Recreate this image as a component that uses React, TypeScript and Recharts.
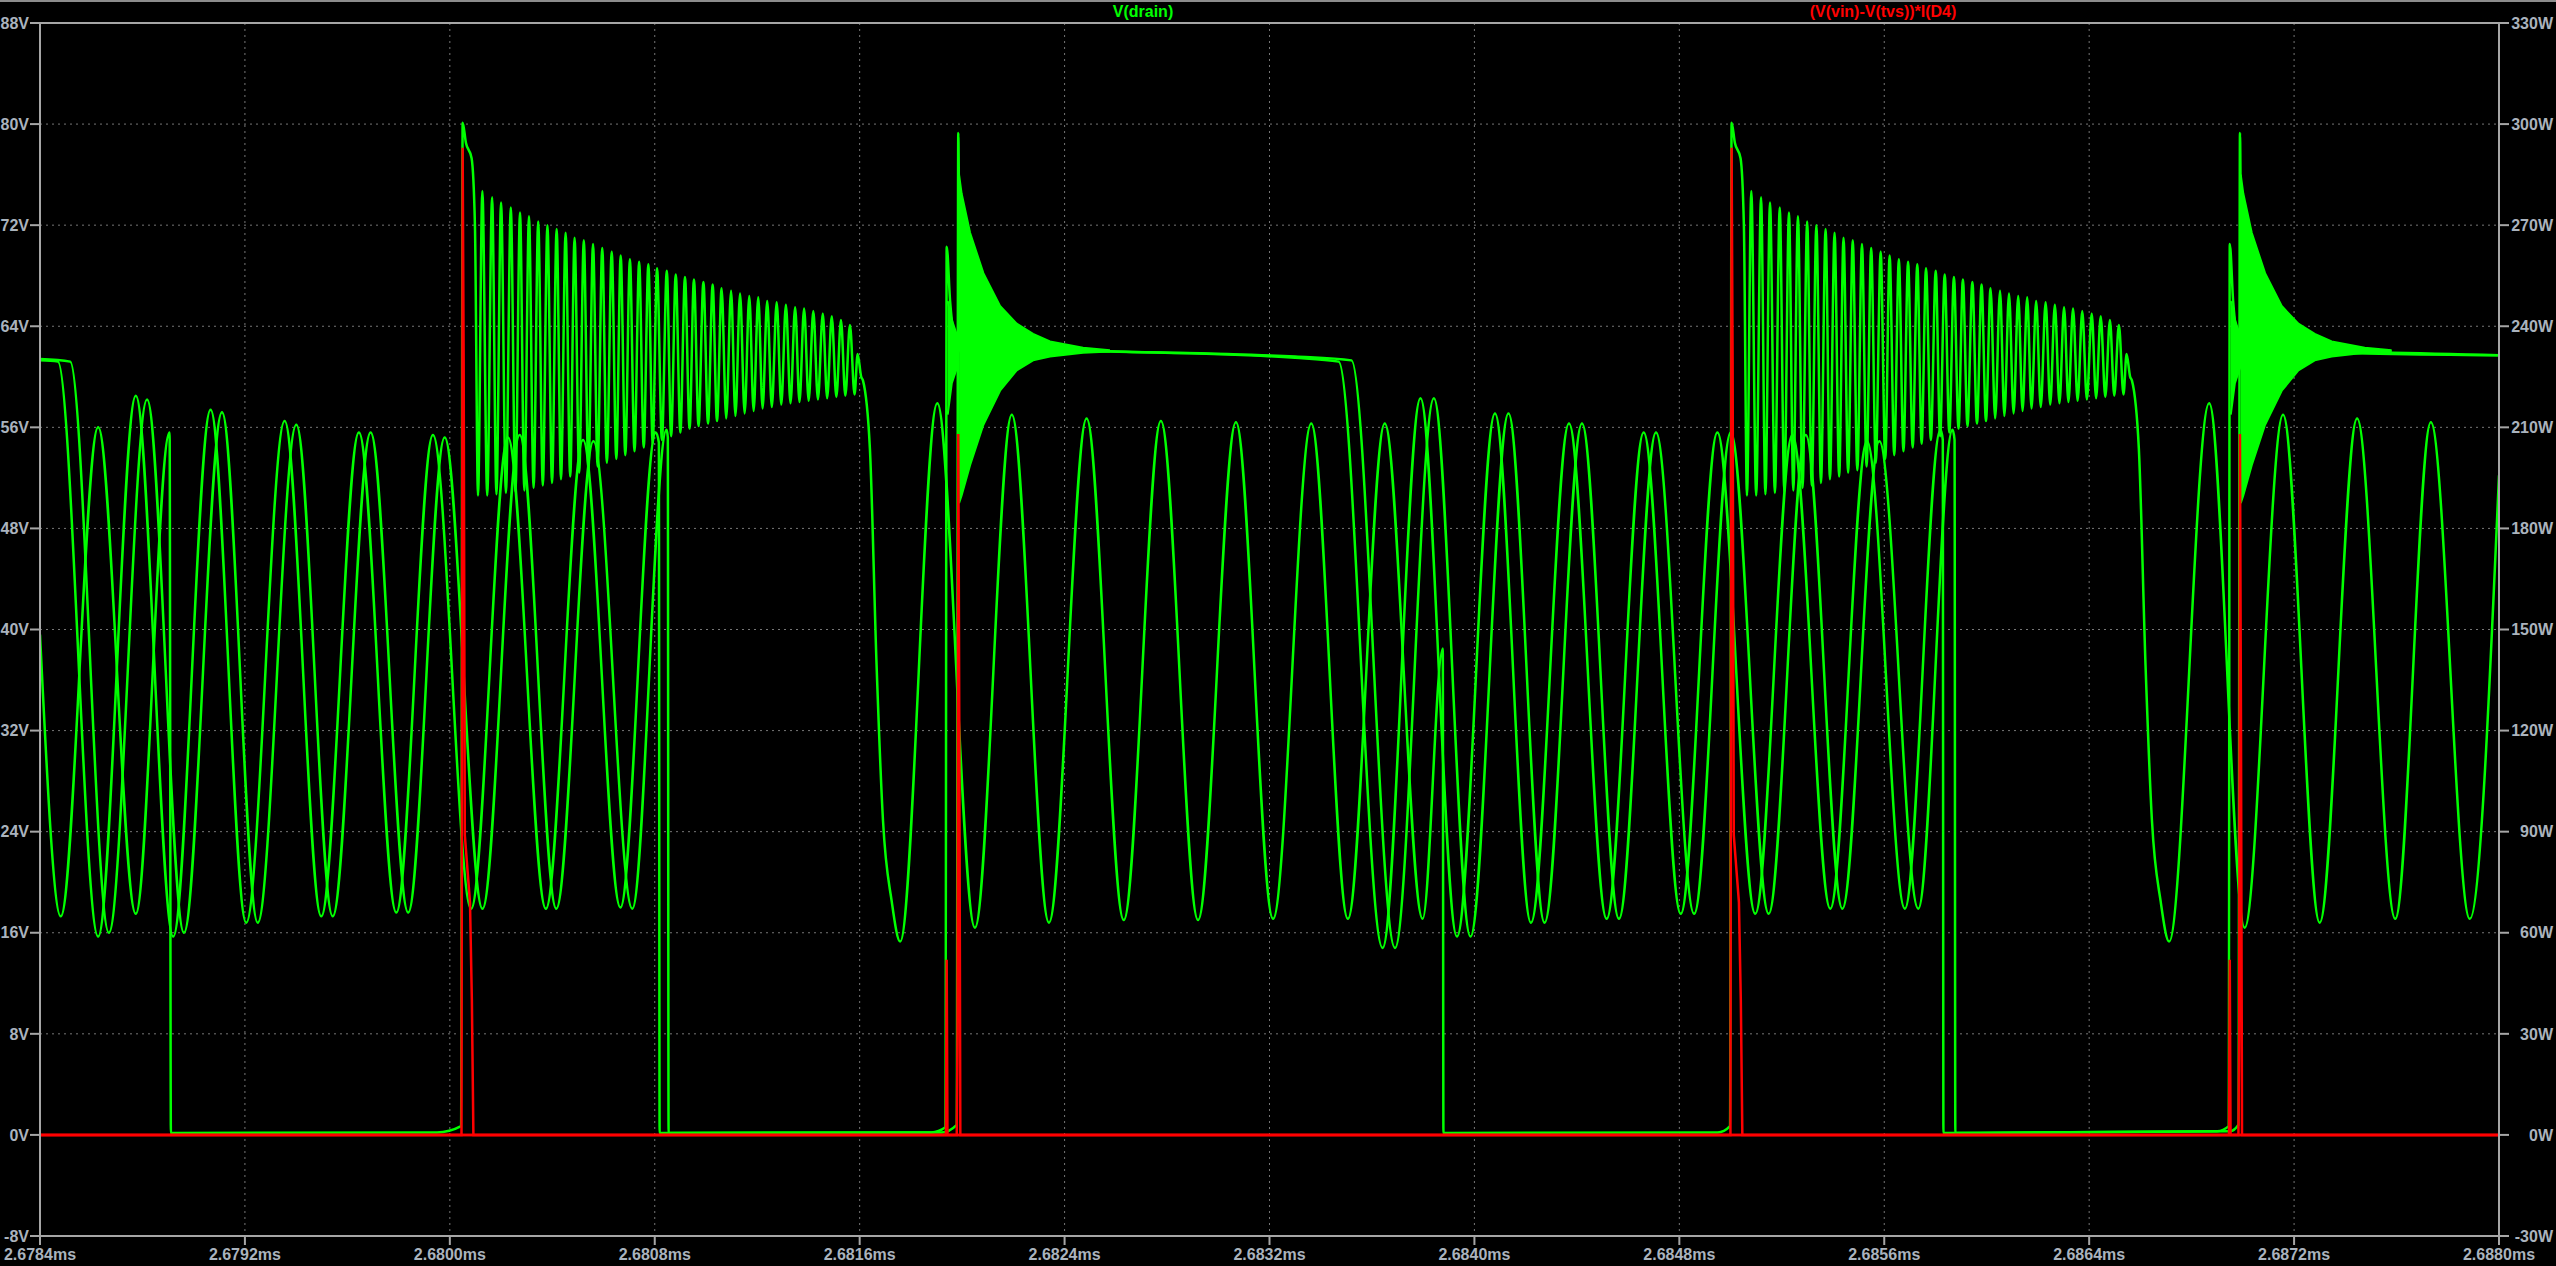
import React from "react";
import {
    ComposedChart,
    Line,
    Area,
    XAxis,
    YAxis,
    CartesianGrid,
    ReferenceLine,
} from "recharts";

// ---------------------------------------------------------------------------
// Axis ticks (time in µs after 2.6784ms)
// ---------------------------------------------------------------------------
const X_TICKS = [0, 0.8, 1.6, 2.4, 3.2, 4, 4.8, 5.6, 6.4, 7.2, 8, 8.8, 9.6];
const X_LABELS = [
    "2.6784ms", "2.6792ms", "2.6800ms", "2.6808ms", "2.6816ms", "2.6824ms", "2.6832ms",
    "2.6840ms", "2.6848ms", "2.6856ms", "2.6864ms", "2.6872ms", "2.6880ms",
];
const V_TICKS = [-8, 0, 8, 16, 24, 32, 40, 48, 56, 64, 72, 80, 88];
const V_LABELS = ["-8V", "0V", "8V", "16V", "24V", "32V", "40V", "48V", "56V", "64V", "72V", "80V", "88V"];
const W_TICKS = [-30, 0, 30, 60, 90, 120, 150, 180, 210, 240, 270, 300, 330];
const W_LABELS = ["-30W", "0W", "30W", "60W", "90W", "120W", "150W", "180W", "210W", "240W", "270W", "300W", "330W"];

// ---------------------------------------------------------------------------
// V(drain), step A — [t µs, volts]
// ---------------------------------------------------------------------------
const A_LEAD = [
    [0, 39.6], [0.081, 17.3], [0.227, 56.0], [0.374, 17.5], [0.506, 55.6],
    [0.511, 0.15], [1.55, 0.2], [1.644, 0.7],
];
const A_MID = [
    [3.503, 57.9], [3.65, 16.4], [3.794, 57.0], [3.939, 16.8], [4.086, 56.7], [4.231, 17.0],
    [4.376, 56.5], [4.521, 17.0], [4.669, 56.4], [4.814, 17.1], [4.963, 56.3], [5.106, 17.1],
    [5.25, 56.3], [5.398, 17.1], [5.4765, 38.5], [5.479, 0.15], [6.55, 0.2], [6.598, 0.7],
];
const A_TAIL = [
    [8.4685, 57.9], [8.607, 16.4], [8.757, 57.0], [8.9, 16.8], [9.046, 56.7],
    [9.195, 17.1], [9.334, 56.4], [9.486, 17.1], [9.6, 52.2],
];
// switch-off instants of step A
const A_OFF = [1.65, 6.604];

// turn-off ringing, offsets from switch-off
const RING_HEAD = [[0, 80.1], [0.013, 78.5], [0.035, 77.3], [0.048, 72.0], [0.06, 50.6]];
const RING_PEAK_DT = [
    0.077, 0.115, 0.15, 0.188, 0.224, 0.259, 0.295, 0.331, 0.367, 0.402, 0.437, 0.473, 0.509, 0.545,
    0.582, 0.617, 0.653, 0.689, 0.725, 0.759, 0.797, 0.832, 0.868, 0.903, 0.94, 0.976, 1.011, 1.048,
    1.083, 1.119, 1.154, 1.189, 1.226, 1.262, 1.298, 1.333, 1.369, 1.406, 1.441, 1.477, 1.512,
];
const RING_PEAK_V = [
    74.7, 74.2, 73.8, 73.4, 73.0, 72.7, 72.3, 72.0, 71.7, 71.4, 71.0, 70.8, 70.5, 70.2,
    69.9, 69.6, 69.3, 69.1, 68.9, 68.6, 68.4, 68.1, 67.9, 67.7, 67.5, 67.3, 67.0, 66.8,
    66.6, 66.4, 66.3, 66.0, 65.9, 65.7, 65.5, 65.4, 65.2, 65.0, 64.8, 64.5, 64.1,
];
const RING_VALLEY_DT = [
    0.096, 0.132, 0.169, 0.206, 0.241, 0.277, 0.313, 0.349, 0.384, 0.42, 0.455, 0.491, 0.527, 0.563,
    0.6, 0.635, 0.671, 0.707, 0.742, 0.778, 0.814, 0.85, 0.886, 0.921, 0.958, 0.993, 1.029, 1.065,
    1.101, 1.136, 1.171, 1.207, 1.244, 1.28, 1.315, 1.351, 1.387, 1.423, 1.459, 1.494, 1.53,
];
const RING_VALLEY_V = [
    50.6, 50.7, 50.8, 50.9, 51.0, 51.2, 51.4, 51.6, 51.9, 52.1, 52.4, 52.6, 52.9, 53.2,
    53.5, 53.8, 54.1, 54.4, 54.7, 55.0, 55.3, 55.6, 55.9, 56.1, 56.3, 56.5, 56.7, 56.9,
    57.1, 57.3, 57.5, 57.6, 57.8, 57.9, 58.0, 58.1, 58.2, 58.3, 58.4, 58.5, 58.6,
];
const RING_TAIL = [
    [1.542, 61.8], [1.556, 60.0], [1.563, 59.7], [1.59, 54.3], [1.616, 37.2],
    [1.641, 24.9], [1.675, 18.5], [1.708, 15.3],
];

// ---------------------------------------------------------------------------
// V(drain), steps B1 / B2
// ---------------------------------------------------------------------------
const B1 = [
    [0, 61.3], [0.07, 61.2], [0.227, 15.7], [0.374, 58.5], [0.52, 15.7], [0.666, 57.4], [0.805, 16.8],
    [0.955, 56.5], [1.098, 17.3], [1.245, 55.6], [1.391, 17.6], [1.534, 55.4], [1.683, 17.9],
    [1.827, 55.2], [1.975, 17.9], [2.12, 55.0], [2.266, 18.0], [2.404, 55.6], [2.416, 54.8],
    [2.419, 0.15], [3.48, 0.2], [3.535, 0.6], [3.5397, 70.3], [3.553, 66.0], [3.566, 63.5],
    [3.579, 62.6], [3.75, 62.2], [4.18, 62.0], [4.9, 61.5], [5.07, 61.2], [5.2415, 14.8],
    [5.3894, 58.3], [5.5319, 15.7], [5.6803, 57.1], [5.8208, 16.8], [5.9692, 56.3], [6.1163, 17.1],
    [6.2608, 55.6], [6.4056, 17.5], [6.5485, 55.6], [6.6965, 17.5], [6.8413, 55.4], [6.9893, 17.9],
    [7.1325, 54.9], [7.2805, 17.9], [7.4199, 55.8], [7.4285, 55.0], [7.431, 0.15], [8.5, 0.3],
    [8.545, 0.7], [8.5489, 70.5], [8.562, 66.0], [8.575, 63.5], [8.588, 62.6], [8.8, 62.0], [9.6, 61.7],
];
const B2 = [
    [0, 61.4], [0.118, 61.2], [0.269, 16.0], [0.418, 58.2], [0.562, 16.0], [0.7105, 57.2], [0.85, 16.8],
    [1.0006, 56.2], [1.1427, 17.3], [1.2907, 55.6], [1.4374, 17.6], [1.5799, 55.2], [1.7275, 17.9],
    [1.8727, 55.4], [2.0156, 17.9], [2.1605, 54.9], [2.3123, 17.9], [2.4462, 55.8], [2.451, 55.2],
    [2.454, 0.15], [3.52, 0.2], [3.579, 0.8], [3.585, 79.3], [3.592, 62.0], [3.8, 62.2], [4.2, 62.0],
    [4.9, 61.6], [5.12, 61.3], [5.29, 14.8], [5.4418, 58.3], [5.5846, 15.7], [5.733, 57.1],
    [5.8739, 16.8], [6.0199, 56.3], [6.1643, 17.1], [6.3088, 55.6], [6.4579, 17.5], [6.6008, 55.6],
    [6.7488, 17.5], [6.8936, 55.4], [7.0365, 17.9], [7.181, 54.9], [7.3328, 17.9], [7.4667, 55.8],
    [7.4745, 55.0], [7.4775, 0.15], [8.55, 0.3], [8.583, 0.8], [8.5887, 79.3], [8.596, 62.0],
    [8.8, 62.0], [9.6, 61.7],
];
const B1_OFF = [3.5397, 8.5489];
const B2_OFF = [3.585, 8.5887];

// dense ringing band after B switch-off (offsets, low / high volts)
const B1_ENV_DT = [0.004, 0.02, 0.045];
const B1_ENV_LO = [57.0, 59.5, 61.0];
const B1_ENV_HI = [66.0, 64.5, 63.0];
const B2_ENV_DT = [0.003, 0.013, 0.046, 0.098, 0.163, 0.228, 0.292, 0.358, 0.487, 0.592];
const B2_ENV_LO = [50.0, 50.6, 53.0, 56.2, 58.9, 60.5, 61.3, 61.6, 61.9, 62.0];
const B2_ENV_HI = [76.0, 74.5, 71.4, 68.2, 65.6, 64.2, 63.4, 62.8, 62.3, 62.1];

// ---------------------------------------------------------------------------
// (V(vin)-V(tvs))*I(D4) spikes, watts, offsets from switch-off
// ---------------------------------------------------------------------------
const RED_A_DT = [-0.0045, 0, 0.004, 0.0085, 0.0287, 0.036, 0.042];
const RED_A_W = [0, 293, 230, 89, 69, 40, 0];
const RED_B1_DT = [-0.003, 0, 0.003];
const RED_B1_W = [0, 52, 0];
const RED_B2_DT = [-0.006, -0.003, 0, 0.004, 0.008];
const RED_B2_W = [0, 30, 208, 120, 0];

// ---------------------------------------------------------------------------
// Styles
// ---------------------------------------------------------------------------
const GREEN = "#00ff00";
const RED = "#ff0000";
const AXIS_COLOR = "#a6a6a6";
const TRACE_W = 2.5;
const FONT = '"Liberation Sans", Arial, sans-serif';
const TICK_STYLE = { fill: "#aab3bd", fontSize: 16, fontWeight: 700, fontFamily: FONT };

const pts = (rows: number[][]) => rows.map(([t, v]) => ({ t, v }));
const shifted = (t0: number, dts: number[], vs: number[]) => dts.map((d, i) => ({ t: t0 + d, v: vs[i] }));

function ringA(t0: number) {
    const zig: { t: number; v: number }[] = [];
    RING_PEAK_DT.forEach((d, i) => {
        zig.push({ t: t0 + d, v: RING_PEAK_V[i] });
        zig.push({ t: t0 + RING_VALLEY_DT[i], v: RING_VALLEY_V[i] });
    });
    return [
        ...RING_HEAD.map(([d, v]) => ({ t: t0 + d, v })),
        ...zig,
        ...RING_TAIL.map(([d, v]) => ({ t: t0 + d, v })),
    ];
}

const envelope = (t0: number, dts: number[], lo: number[], hi: number[]) =>
    dts.map((d, i) => ({ t: t0 + d, r: [lo[i], hi[i]] }));

const redSeries = (offs: number[], dts: number[], ws: number[]) => [
    { t: 0, v: 0 },
    ...offs.flatMap((o) => shifted(o, dts, ws)),
    { t: 9.6, v: 0 },
];

const A_DATA = [...pts(A_LEAD), ...ringA(A_OFF[0]), ...pts(A_MID), ...ringA(A_OFF[1]), ...pts(A_TAIL)];
const B1_DATA = pts(B1);
const B2_DATA = pts(B2);
const ENVS = [
    ...B1_OFF.map((o) => envelope(o, B1_ENV_DT, B1_ENV_LO, B1_ENV_HI)),
    ...B2_OFF.map((o) => envelope(o, B2_ENV_DT, B2_ENV_LO, B2_ENV_HI)),
];
const RED_A = redSeries(A_OFF, RED_A_DT, RED_A_W);
const RED_B1 = redSeries(B1_OFF, RED_B1_DT, RED_B1_W);
const RED_B2 = redSeries(B2_OFF, RED_B2_DT, RED_B2_W);

const RightTick = (props: any) => {
    const { y, payload } = props;
    return (
        <text x={2553} y={y} dy="0.355em" textAnchor="end" {...TICK_STYLE}>
            {W_LABELS[W_TICKS.indexOf(payload.value)]}
        </text>
    );
};

export default function App() {
    return (
        <div
            style={{
                position: "fixed",
                left: 0,
                top: 0,
                width: 2556,
                height: 1266,
                background: "#000",
                overflow: "hidden",
            }}
        >
            <div style={{ position: "absolute", left: 0, top: 0, width: 2556, height: 2, background: "#8c8c8c" }} />
            <div
                style={{
                    position: "absolute",
                    left: 1143,
                    top: 3,
                    transform: "translateX(-50%)",
                    color: GREEN,
                    font: `bold 16px ${FONT}`,
                    whiteSpace: "nowrap",
                }}
            >
                V(drain)
            </div>
            <div
                style={{
                    position: "absolute",
                    left: 1883,
                    top: 3,
                    transform: "translateX(-50%)",
                    color: RED,
                    font: `bold 16px ${FONT}`,
                    whiteSpace: "nowrap",
                }}
            >
                (V(vin)-V(tvs))*I(D4)
            </div>
            <ComposedChart width={2556} height={1266} margin={{ top: 23, right: 0, bottom: 0, left: 0 }}>
                <CartesianGrid
                    yAxisId="v"
                    stroke="#767676"
                    strokeDasharray="2 4"
                    strokeWidth={1}
                />
                <XAxis
                    dataKey="t"
                    type="number"
                    domain={[0, 9.6]}
                    ticks={X_TICKS}
                    interval={0}
                    allowDataOverflow
                    height={30}
                    tickSize={9}
                    tickMargin={4}
                    tick={TICK_STYLE}
                    tickFormatter={(v: number) => X_LABELS[X_TICKS.indexOf(v)]}
                    axisLine={{ stroke: AXIS_COLOR, strokeWidth: 2 }}
                    tickLine={{ stroke: AXIS_COLOR, strokeWidth: 2 }}
                />
                <YAxis
                    yAxisId="v"
                    type="number"
                    domain={[-8, 88]}
                    ticks={V_TICKS}
                    interval={0}
                    allowDataOverflow
                    width={40}
                    tickSize={10}
                    tickMargin={1}
                    tick={TICK_STYLE}
                    tickFormatter={(v: number) => V_LABELS[V_TICKS.indexOf(v)]}
                    axisLine={{ stroke: AXIS_COLOR, strokeWidth: 2 }}
                    tickLine={{ stroke: AXIS_COLOR, strokeWidth: 2 }}
                />
                <YAxis
                    yAxisId="w"
                    orientation="right"
                    type="number"
                    domain={[-30, 330]}
                    ticks={W_TICKS}
                    interval={0}
                    allowDataOverflow
                    width={57}
                    tickSize={10}
                    tick={<RightTick />}
                    axisLine={{ stroke: AXIS_COLOR, strokeWidth: 2 }}
                    tickLine={{ stroke: AXIS_COLOR, strokeWidth: 2 }}
                />
                <ReferenceLine yAxisId="v" y={88} stroke={AXIS_COLOR} strokeWidth={2} />

                {ENVS.map((env, i) => (
                    <Area
                        key={`env-${i}`}
                        yAxisId="v"
                        data={env}
                        dataKey="r"
                        type="linear"
                        stroke={GREEN}
                        strokeWidth={2}
                        fill={GREEN}
                        fillOpacity={1}
                        isAnimationActive={false}
                        dot={false}
                        activeDot={false}
                    />
                ))}
                <Line yAxisId="v" data={B1_DATA} dataKey="v" type="monotone" stroke={GREEN} strokeWidth={TRACE_W}
                    dot={false} activeDot={false} isAnimationActive={false} />
                <Line yAxisId="v" data={B2_DATA} dataKey="v" type="monotone" stroke={GREEN} strokeWidth={TRACE_W}
                    dot={false} activeDot={false} isAnimationActive={false} />
                <Line yAxisId="v" data={A_DATA} dataKey="v" type="monotone" stroke={GREEN} strokeWidth={TRACE_W}
                    dot={false} activeDot={false} isAnimationActive={false} />

                <Line yAxisId="w" data={RED_B1} dataKey="v" type="linear" stroke={RED} strokeWidth={TRACE_W}
                    dot={false} activeDot={false} isAnimationActive={false} />
                <Line yAxisId="w" data={RED_B2} dataKey="v" type="linear" stroke={RED} strokeWidth={TRACE_W}
                    dot={false} activeDot={false} isAnimationActive={false} />
                <Line yAxisId="w" data={RED_A} dataKey="v" type="linear" stroke={RED} strokeWidth={TRACE_W}
                    dot={false} activeDot={false} isAnimationActive={false} />
            </ComposedChart>
        </div>
    );
}
